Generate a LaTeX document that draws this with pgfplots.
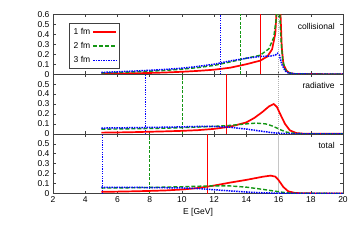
\documentclass[border=0pt]{standalone}
\usepackage{pgfplots}
\pgfplotsset{compat=1.18}
\usepackage{fontspec}
\setmainfont{Liberation Sans}
\definecolor{cred}{RGB}{255,0,0}
\definecolor{cgreen}{RGB}{20,150,20}
\definecolor{cblue}{RGB}{0,0,255}
\newcommand{\fnt}{\fontsize{8.5}{10}\selectfont}
\pgfplotsset{
  panel/.style={
    scale only axis, width=290pt, height=59.67pt,
    xmin=2, xmax=20, ymin=0, ymax=0.6,
    xtick={2,4,...,20}, ytick={0,0.1,0.2,0.3,0.4,0.5,0.6},
    tick align=inside, major tick length=3pt,
    axis line style={black!75, line width=0.6pt},
    every tick/.style={black!75, line width=0.5pt},
    tick label style={font=\fnt},
    label style={font=\fnt},
    /pgf/number format/assume math mode=true,
    clip=true,
  },
  c1/.style={cred, line width=1.7pt},
  c2/.style={cgreen, line width=1.4pt, dash pattern=on 4pt off 2pt},
  c3/.style={cblue, line width=1.5pt, dash pattern=on 1.5pt off 1pt},
  v1/.style={forget plot, draw=cred, line width=0.9pt},
  v2/.style={forget plot, draw=cgreen, line width=0.9pt, dash pattern=on 3pt off 1.5pt},
  v3/.style={forget plot, draw=cblue, line width=0.9pt, dash pattern=on 1.2pt off 1.2pt},
  vg/.style={forget plot, draw=gray!60, line width=0.7pt, dash pattern=on 1pt off 1pt},
}
\begin{document}
\begin{tikzpicture}
\path[use as bounding box] (-53pt,-54pt) rectangle (301pt,193.5pt);

% ---------- top: collisional ----------
\begin{axis}[panel, at={(0pt,119.34pt)}, xticklabels={},
  legend style={at={(axis description cs:0.055,0.85)}, anchor=north west,
    font=\fnt, draw=black!75, line width=0.5pt, fill=white,
    row sep=2.5pt, inner sep=2.5pt},
  legend cell align=left, legend plot pos=right,
  legend image code/.code={\draw[#1] (0cm,0cm) -- (0.8cm,0cm);}]
\addplot[c1] coordinates {(5,0.005) (6,0.007) (7,0.009) (8,0.012) (9,0.017) (10,0.024) (11,0.033) (12,0.045) (13,0.065) (14,0.1) (14.86,0.136) (15.3,0.177) (15.6,0.25) (15.8,0.41) (15.9,0.7) (16.0,1.0) (16.1,0.7) (16.2,0.27) (16.3,0.1) (16.5,0.034) (16.7,0.01) (17,0.003) (18,0.001) (20,0)};
\addlegendentry{1 fm}
\addplot[c2] coordinates {(5,0.012) (6,0.017) (7,0.023) (8,0.03) (9,0.038) (10,0.05) (11,0.066) (12,0.088) (13,0.123) (14,0.16) (14.86,0.19) (15.4,0.255) (15.7,0.37) (15.85,0.55) (15.95,0.7) (16.05,0.7) (16.15,0.35) (16.25,0.15) (16.4,0.05) (16.6,0.015) (17,0.004) (18,0.001) (20,0)};
\addlegendentry{2 fm}
\addplot[c3] coordinates {(5,0.017) (6,0.024) (7,0.031) (8,0.039) (9,0.048) (10,0.06) (11,0.078) (12,0.1) (13,0.133) (14,0.16) (14.86,0.178) (15.5,0.182) (15.8,0.192) (15.95,0.21) (16.05,0.19) (16.2,0.1) (16.4,0.034) (16.6,0.012) (17,0.004) (18,0.001) (20,0)};
\addlegendentry{3 fm}
\addplot[vg] coordinates {(16,0) (16,0.6)};
\addplot[v1] coordinates {(14.88,0) (14.88,0.6)};
\addplot[v2] coordinates {(13.65,0) (13.65,0.6)};
\addplot[v3] coordinates {(12.4,0) (12.4,0.6)};
\node[anchor=north east, inner sep=0pt, font=\fnt] at (rel axis cs:0.972,0.86) {collisional};
\end{axis}

% ---------- middle: radiative ----------
\begin{axis}[panel, at={(0pt,59.67pt)}, xticklabels={},
  yticklabels={0,0.1,0.2,0.3,0.4,0.5,{}}]
\addplot[vg] coordinates {(16,0) (16,0.6)};
\addplot[v1] coordinates {(12.77,0) (12.77,0.6)};
\addplot[v2] coordinates {(10.05,0) (10.05,0.6)};
\addplot[v3] coordinates {(7.75,0) (7.75,0.6)};
\addplot[c1] coordinates {(5,0.012) (6,0.014) (7,0.017) (8,0.021) (9,0.025) (10,0.03) (11,0.037) (12,0.05) (13,0.072) (14,0.115) (14.5,0.16) (15,0.22) (15.4,0.275) (15.7,0.3) (15.9,0.27) (16.1,0.2) (16.4,0.1) (16.7,0.035) (17.1,0.008) (17.5,0.002) (18,0.001) (20,0)};
\addplot[c2] coordinates {(5,0.047) (6,0.049) (7,0.051) (8,0.054) (9,0.057) (10,0.062) (11,0.068) (12,0.075) (13,0.085) (14,0.1) (14.6,0.108) (15.2,0.1) (15.6,0.08) (15.9,0.058) (16.2,0.035) (16.5,0.017) (17,0.005) (17.5,0.001) (20,0)};
\addplot[c3] coordinates {(5,0.058) (6,0.06) (7,0.062) (8,0.064) (9,0.067) (10,0.07) (11,0.074) (12,0.074) (13,0.066) (14,0.048) (15,0.025) (15.5,0.014) (16,0.006) (16.5,0.002) (17,0.001) (20,0)};
\node[anchor=north east, inner sep=0pt, font=\fnt] at (rel axis cs:0.972,0.86) {radiative};
\node[rotate=90, font=\fnt] at (rel axis cs:-0.138,0.5) {P(T=400 MeV,E)};
\end{axis}

% ---------- bottom: total ----------
\begin{axis}[panel, at={(0pt,0pt)},
  yticklabels={0,0.1,0.2,0.3,0.4,0.5,{}},
  xlabel={E [GeV]}, xlabel style={yshift=2pt}]
\addplot[forget plot, draw=gray!45, line width=1pt] coordinates {(16,0) (16,0.6)};
\addplot[v1] coordinates {(11.6,0) (11.6,0.6)};
\addplot[v2] coordinates {(8.0,0) (8.0,0.6)};
\addplot[v3] coordinates {(5.1,0) (5.1,0.6)};
\addplot[c1] coordinates {(5,0.017) (6,0.019) (7,0.022) (8,0.026) (9,0.031) (10,0.04) (11,0.055) (12,0.08) (13,0.11) (14,0.137) (15,0.168) (15.5,0.18) (15.8,0.17) (16.0,0.135) (16.3,0.065) (16.6,0.022) (17,0.006) (17.5,0.002) (20,0)};
\addplot[c2] coordinates {(5,0.055) (6,0.056) (7,0.058) (8,0.061) (9,0.064) (10,0.068) (11,0.073) (12,0.077) (13,0.076) (14,0.064) (15,0.042) (15.5,0.03) (16,0.018) (16.5,0.007) (17,0.002) (20,0)};
\addplot[c3] coordinates {(5,0.063) (6,0.062) (7,0.061) (8,0.06) (9,0.058) (10,0.056) (11,0.05) (12,0.038) (13,0.026) (14,0.015) (15,0.007) (16,0.003) (17,0.001) (20,0)};
\node[anchor=north east, inner sep=0pt, font=\fnt] at (rel axis cs:0.972,0.86) {total};
\end{axis}
\end{tikzpicture}
\end{document}
